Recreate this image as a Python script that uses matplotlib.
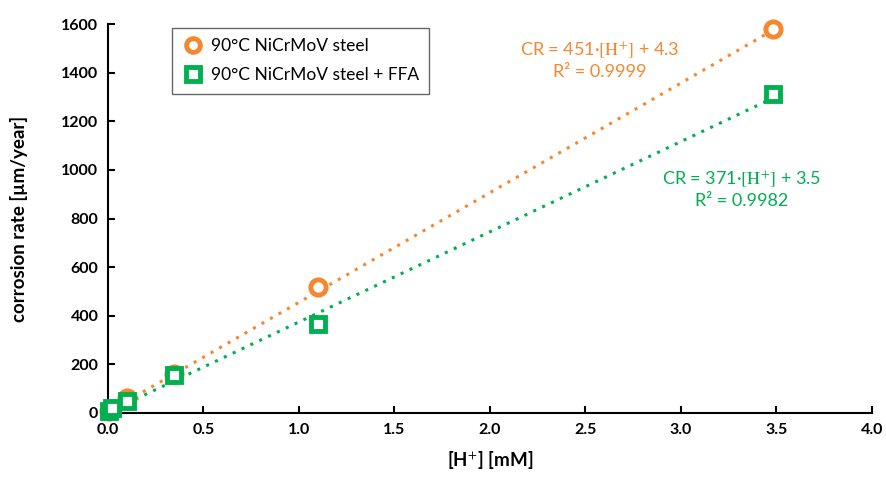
import matplotlib
matplotlib.use("Agg")
import matplotlib.pyplot as plt
import numpy as np

plt.rcParams['font.family'] = ['Lato', 'DejaVu Sans']
plt.rcParams['mathtext.fontset'] = 'stix'

# Data
h_conc = [0.005, 0.02, 0.1, 0.345, 1.1, 3.48]
cr_steel = [10, 15, 62, 162, 518, 1578]
h_conc_ffa = [0.005, 0.02, 0.1, 0.345, 1.1, 3.48]
cr_ffa = [8, 20, 50, 155, 368, 1312]
series_labels = ["90°C NiCrMoV steel", "90°C NiCrMoV steel + FFA"]
slopes = [451, 371]
intercepts = [4.3, 3.5]
r2 = ["0.9999", "0.9982"]
xticks = [0.0, 0.5, 1.0, 1.5, 2.0, 2.5, 3.0, 3.5, 4.0]
yticks = [0, 200, 400, 600, 800, 1000, 1200, 1400, 1600]

orange = '#F5872F'
green = '#00B050'

fig = plt.figure(figsize=(8.87, 4.87), dpi=100)
ax = fig.add_axes([108/887, 1-413/487, 764/887, 389/487])

for xs, ys, col, mk, lab, m, b in [
        (h_conc, cr_steel, orange, 'o', series_labels[0], slopes[0], intercepts[0]),
        (h_conc_ffa, cr_ffa, green, 's', series_labels[1], slopes[1], intercepts[1])]:
    xx = np.array([min(xs), max(xs)])
    ax.plot(xx, m*xx + b, linestyle=(0, (1, 2.2)), color=col, lw=2.2, zorder=2)
    ax.plot(xs, ys, linestyle='none', marker=mk, ms=11 if mk == 'o' else 10.5,
            mfc='white', mec=col, mew=3.5, label=lab, zorder=3, clip_on=False)

ax.set_xlim(0, 4.0)
ax.set_ylim(0, 1600)
ax.set_xticks(xticks)
ax.set_yticks(yticks)
ax.set_xticklabels([f"{v:.1f}" for v in xticks])
ax.set_yticklabels([str(v) for v in yticks])
for s in ['top', 'right']:
    ax.spines[s].set_visible(False)
for s in ['left', 'bottom']:
    ax.spines[s].set_linewidth(1.5)
ax.tick_params(direction='in', length=5, width=1.5, labelsize=11.5, pad=7)
for lbl in ax.get_xticklabels() + ax.get_yticklabels():
    lbl.set_fontweight('bold')

ax.set_xlabel("[H$^{+}$] [mM]", fontsize=13.5, fontweight='bold', labelpad=9)
ax.set_ylabel("corrosion rate [µm/year]", fontsize=13.5, fontweight='bold', labelpad=24)

ax.text(2.576, 1452, f"CR = {slopes[0]}·$[\\mathrm{{H}}^{{+}}]$ + {intercepts[0]}\nR² = {r2[0]}",
        color=orange, fontsize=13, ha='center', va='center', linespacing=1.25)
ax.text(3.32, 921, f"CR = {slopes[1]}·$[\\mathrm{{H}}^{{+}}]$ + {intercepts[1]}\nR² = {r2[1]}",
        color=green, fontsize=13, ha='center', va='center', linespacing=1.25)

leg = ax.legend(loc='upper left', bbox_to_anchor=(0.073, 1.012), fontsize=12.5,
                frameon=True, fancybox=False, edgecolor='#404040', handletextpad=0.4,
                borderpad=0.6, labelspacing=0.75, handlelength=1.2, markerscale=0.9)
leg.get_frame().set_linewidth(1.0)

fig.savefig("out.png", dpi=100)
